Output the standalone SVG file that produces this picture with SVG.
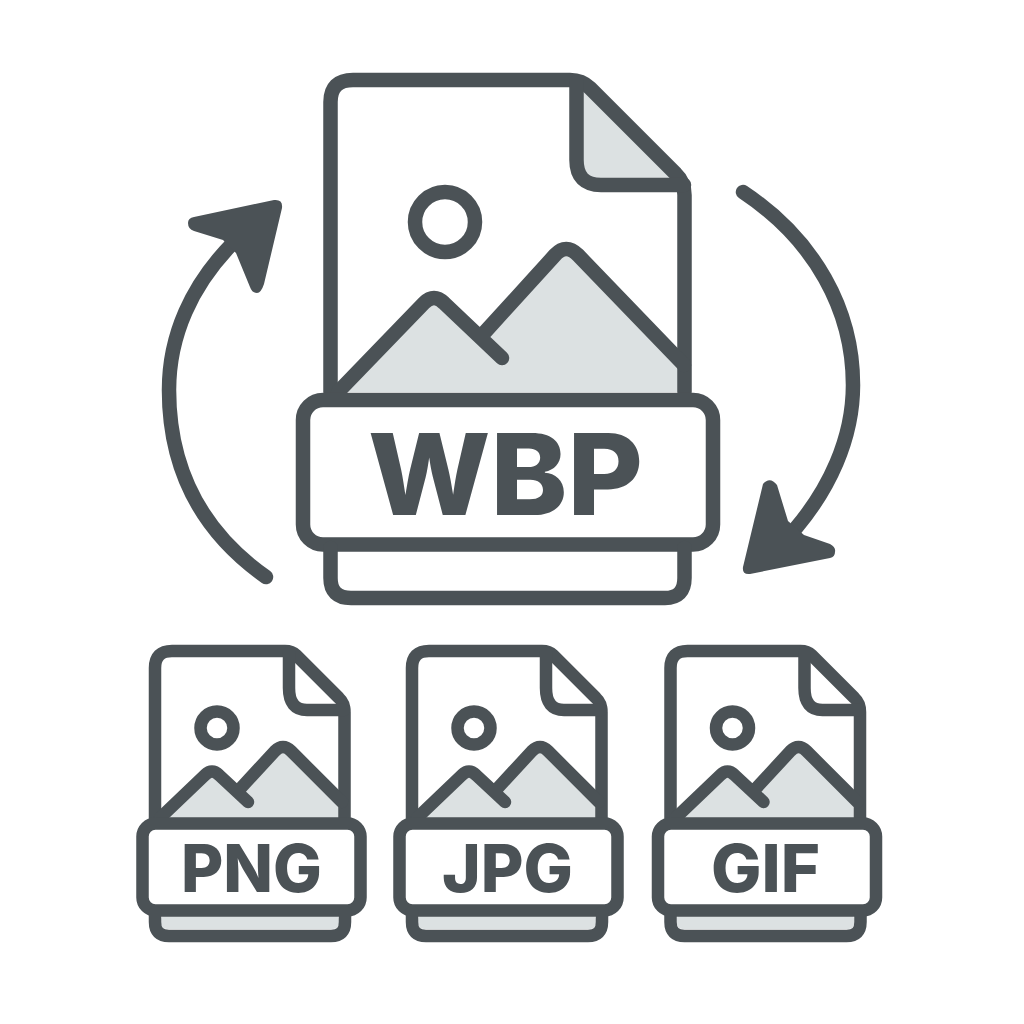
<svg xmlns="http://www.w3.org/2000/svg" width="1024" height="1024" viewBox="0 0 1024 1024">
<defs>
<style>
.o{fill:none;stroke:#4b5256;stroke-linecap:round;stroke-linejoin:round}
.big{stroke-width:14.500}
.sm{stroke-width:12.500}
.f{fill:#dce1e2;stroke:none}
.w{fill:#fff}
.hd{fill:#4b5256;stroke:none}
text{font-family:Inter,"Liberation Sans",Arial,sans-serif;font-weight:800;fill:#4b5256;text-anchor:middle}
</style>
<g id="small">
<path class="f" d="M165 818L212 771L244 804L240 790L283 746L340 802V818Z"/>
<rect class="f" x="161" y="914" width="178" height="15" rx="6"/>
<path class="o sm" d="M155 818V668Q155 651 172 651H285Q292 651 296 655L339 698Q344.500 703 344.500 712V818"/>
<path class="o sm" d="M289 653V688Q289 710 307 710H344"/>
<circle class="o sm" cx="217" cy="728" r="16.500"/>
<path class="o sm" d="M160 818L205 775Q212 768 219 775L248 802M239 790L275 751Q283 743 291 751L342 802"/>
<rect class="o sm w" x="142.500" y="823.500" width="218" height="87" rx="13"/>
<path class="o sm" d="M155 912V922Q155 936 169 936H331Q345 936 345 922V912"/>
</g>
</defs>
<g id="node-wbp">
<path class="f" d="M340 392L434 297L495 356L486 332L566 250L678 362V392Z"/>
<path class="f" d="M583 90L673 178H600Q583 178 583 160Z"/>
<path class="o big" d="M330.500 392V102Q330.500 80 353 80H570Q582 80 590 88L676 174Q684.500 182 684.500 195V392"/>
<path class="o big" d="M576.500 82V160Q576.500 185 601 185H684"/>
<circle class="o big" cx="445" cy="222" r="30"/>
<path class="o big" d="M338 392L424 303Q434 293 444 303L502 358M485 332L555 255Q566 243 578 255L684 365"/>
<rect class="o big w" x="303" y="400" width="410" height="144.500" rx="20"/>
<path class="o big" d="M330.500 548V578Q330.500 598 351 598H665Q684.500 598 684.500 578V548"/>
<text x="505.500" y="515" font-size="113" textLength="275" lengthAdjust="spacingAndGlyphs">WBP</text>
</g>
<g id="node-png"><use href="#small"/><text x="251.500" y="892" font-size="66" textLength="141" lengthAdjust="spacingAndGlyphs">PNG</text></g>
<g id="node-jpg"><use href="#small" x="257"/><text x="507.500" y="892" font-size="66" textLength="131" lengthAdjust="spacingAndGlyphs">JPG</text></g>
<g id="node-gif"><use href="#small" x="515.500"/><text x="765.500" y="892" font-size="66" textLength="109" lengthAdjust="spacingAndGlyphs">GIF</text></g>
<g id="connectors">
<path class="o big" d="M266 577C195 527 169 460 169 390C169 335 192 285 232 244"/>
<path class="hd" d="M274 200Q283 199 282 208L264 284Q261 293 257 293Q252 293 250 287L236 253L223 240L194 231Q188 229 188 223Q188 218 194 217Z"/>
<path class="o big" d="M743 192C815 240 853 310 853 385C853 440 828 490 796 528"/>
<path class="hd" d="M763 484Q770 476 777 485L788 521L804 535L830 544Q836 547 835 552Q835 557 830 558L750 574Q742 575 743 567Z"/>
</g>
</svg>
